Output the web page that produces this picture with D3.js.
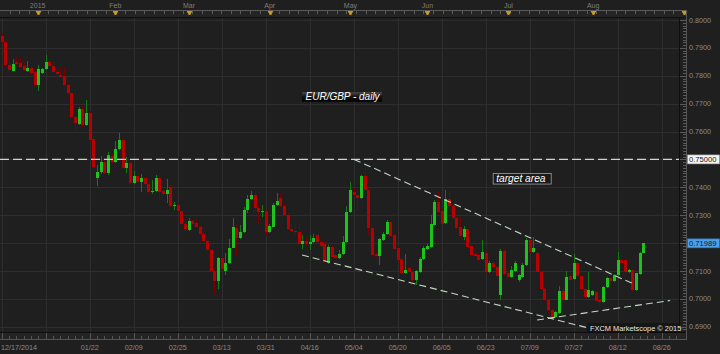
<!DOCTYPE html>
<html><head><meta charset="utf-8">
<script src="https://cdn.jsdelivr.net/npm/d3@7"></script>
<style>html,body{margin:0;padding:0;background:#1f1f1f;}svg{display:block;}</style>
</head><body><svg id="c" width="720" height="354"></svg>
<script>
// ---------- DATA (EUR/GBP daily, 17 Dec 2014 – 19 Aug 2015) ----------
const opens = [
0.7944,0.7922,0.7840,0.7818,0.7849,0.7844,0.7836,0.7818,0.7829,0.7814,
0.7767,0.7811,0.7824,0.7848,0.7836,0.7814,0.7804,0.7799,0.7767,0.7737,
0.7653,0.7627,0.7681,0.7623,0.7667,0.7573,0.7435,0.7454,0.7491,0.7452,
0.7513,0.7491,0.7537,0.7570,0.7468,0.7488,0.7416,0.7440,0.7418,0.7435,
0.7411,0.7384,0.7386,0.7434,0.7386,0.7375,0.7402,0.7335,0.7336,0.7315,
0.7268,0.7246,0.7278,0.7272,0.7258,0.7234,0.7206,0.7175,0.7098,0.7064,
0.7146,0.7100,0.7127,0.7184,0.7253,0.7217,0.7239,0.7318,0.7357,0.7372,
0.7326,0.7312,0.7314,0.7240,0.7258,0.7336,0.7360,0.7334,0.7302,0.7250,
0.7245,0.7238,0.7198,0.7209,0.7198,0.7202,0.7228,0.7202,0.7198,0.7130,
0.7186,0.7156,0.7147,0.7159,0.7202,0.7310,0.7384,0.7374,0.7360,0.7440,
0.7390,0.7254,0.7159,0.7154,0.7211,0.7232,0.7274,0.7228,0.7183,0.7142,
0.7093,0.7109,0.7096,0.7067,0.7096,0.7142,0.7178,0.7186,0.7264,0.7348,
0.7314,0.7272,0.7357,0.7333,0.7290,0.7258,0.7220,0.7249,0.7190,0.7161,
0.7156,0.7142,0.7166,0.7096,0.7130,0.7114,0.7013,0.7171,0.7091,0.7078,
0.7099,0.7067,0.7078,0.7120,0.7211,0.7168,0.7165,0.7096,0.7037,0.6997,
0.6961,0.6933,0.6949,0.7028,0.6997,0.7081,0.7070,0.7127,0.7081,0.7037,
0.7007,0.7013,0.7025,0.6995,0.6989,0.7043,0.7075,0.7064,0.7085,0.7141,
0.7138,0.7096,0.7103,0.7031,0.7088,0.7166];
const highs = [
0.7953,0.7925,0.7856,0.7859,0.7868,0.7865,0.7850,0.7853,0.7831,0.7817,
0.7838,0.7828,0.7874,0.7856,0.7856,0.7829,0.7827,0.7827,0.7770,0.7738,
0.7659,0.7688,0.7691,0.7713,0.7673,0.7584,0.7480,0.7512,0.7498,0.7527,
0.7519,0.7566,0.7593,0.7573,0.7509,0.7494,0.7458,0.7444,0.7447,0.7437,
0.7415,0.7426,0.7444,0.7440,0.7393,0.7429,0.7408,0.7348,0.7339,0.7318,
0.7275,0.7289,0.7288,0.7282,0.7264,0.7239,0.7210,0.7178,0.7103,0.7149,
0.7149,0.7164,0.7214,0.7290,0.7264,0.7264,0.7330,0.7372,0.7386,0.7375,
0.7332,0.7336,0.7318,0.7268,0.7343,0.7378,0.7378,0.7339,0.7307,0.7270,
0.7264,0.7270,0.7228,0.7222,0.7228,0.7231,0.7232,0.7207,0.7203,0.7192,
0.7192,0.7164,0.7175,0.7226,0.7333,0.7420,0.7396,0.7379,0.7444,0.7479,
0.7393,0.7257,0.7167,0.7217,0.7239,0.7282,0.7278,0.7232,0.7185,0.7146,
0.7160,0.7113,0.7099,0.7103,0.7149,0.7189,0.7198,0.7302,0.7354,0.7384,
0.7318,0.7390,0.7386,0.7336,0.7293,0.7289,0.7262,0.7252,0.7192,0.7167,
0.7160,0.7211,0.7169,0.7135,0.7135,0.7117,0.7178,0.7175,0.7099,0.7117,
0.7135,0.7088,0.7128,0.7217,0.7214,0.7222,0.7170,0.7099,0.7040,0.6998,
0.6964,0.6957,0.7045,0.7043,0.7100,0.7085,0.7162,0.7129,0.7083,0.7040,
0.7096,0.7033,0.7029,0.7013,0.7047,0.7079,0.7079,0.7088,0.7168,0.7168,
0.7142,0.7106,0.7106,0.7094,0.7169,0.7201];
const lows = [
0.7917,0.7835,0.7815,0.7817,0.7838,0.7829,0.7817,0.7814,0.7808,0.7758,
0.7746,0.7808,0.7821,0.7831,0.7810,0.7785,0.7791,0.7763,0.7734,0.7648,
0.7599,0.7623,0.7617,0.7619,0.7566,0.7469,0.7404,0.7447,0.7447,0.7444,
0.7487,0.7487,0.7533,0.7465,0.7450,0.7411,0.7413,0.7415,0.7384,0.7375,
0.7379,0.7375,0.7383,0.7350,0.7372,0.7342,0.7329,0.7320,0.7311,0.7264,
0.7244,0.7243,0.7264,0.7255,0.7228,0.7203,0.7171,0.7095,0.7016,0.7034,
0.7103,0.7086,0.7124,0.7181,0.7156,0.7214,0.7235,0.7306,0.7354,0.7306,
0.7270,0.7294,0.7226,0.7235,0.7257,0.7332,0.7329,0.7296,0.7246,0.7239,
0.7228,0.7196,0.7180,0.7192,0.7175,0.7199,0.7199,0.7185,0.7128,0.7126,
0.7146,0.7142,0.7144,0.7156,0.7199,0.7307,0.7368,0.7318,0.7357,0.7386,
0.7228,0.7153,0.7149,0.7123,0.7207,0.7228,0.7223,0.7178,0.7135,0.7088,
0.7088,0.7092,0.7063,0.7049,0.7094,0.7139,0.7175,0.7183,0.7260,0.7307,
0.7268,0.7269,0.7330,0.7287,0.7252,0.7218,0.7211,0.7183,0.7153,0.7149,
0.7135,0.7138,0.7094,0.7094,0.7110,0.7077,0.6995,0.7086,0.7074,0.7076,
0.7095,0.7059,0.7076,0.7117,0.7165,0.7165,0.7094,0.7034,0.6991,0.6948,
0.6926,0.6930,0.6946,0.6989,0.6995,0.7067,0.7066,0.7077,0.7034,0.7004,
0.7004,0.7009,0.6989,0.6971,0.6986,0.7040,0.7061,0.7061,0.7081,0.7124,
0.7094,0.7094,0.7027,0.7027,0.7085,0.7164];
const closes = [
0.7922,0.7838,0.7819,0.7842,0.7842,0.7832,0.7821,0.7829,0.7811,0.7767,
0.7824,0.7824,0.7848,0.7835,0.7812,0.7806,0.7796,0.7767,0.7737,0.7653,
0.7629,0.7681,0.7623,0.7667,0.7570,0.7473,0.7454,0.7491,0.7452,0.7515,
0.7491,0.7539,0.7570,0.7468,0.7488,0.7416,0.7440,0.7418,0.7435,0.7411,
0.7384,0.7387,0.7434,0.7384,0.7375,0.7390,0.7333,0.7338,0.7314,0.7268,
0.7249,0.7278,0.7268,0.7258,0.7232,0.7206,0.7175,0.7098,0.7064,0.7146,
0.7106,0.7127,0.7184,0.7256,0.7217,0.7239,0.7318,0.7357,0.7372,0.7326,
0.7312,0.7315,0.7240,0.7260,0.7336,0.7350,0.7333,0.7300,0.7250,0.7243,
0.7238,0.7198,0.7207,0.7196,0.7204,0.7218,0.7202,0.7190,0.7132,0.7186,
0.7150,0.7147,0.7162,0.7202,0.7312,0.7390,0.7372,0.7360,0.7440,0.7390,
0.7254,0.7156,0.7154,0.7214,0.7234,0.7274,0.7226,0.7180,0.7139,0.7093,
0.7105,0.7096,0.7067,0.7099,0.7144,0.7183,0.7189,0.7267,0.7348,0.7310,
0.7270,0.7357,0.7333,0.7290,0.7254,0.7225,0.7249,0.7186,0.7156,0.7153,
0.7139,0.7168,0.7096,0.7130,0.7114,0.7082,0.7171,0.7088,0.7078,0.7103,
0.7130,0.7085,0.7120,0.7211,0.7168,0.7184,0.7096,0.7037,0.6995,0.6961,
0.6933,0.6953,0.7028,0.6997,0.7078,0.7069,0.7127,0.7081,0.7037,0.7007,
0.7031,0.7028,0.6992,0.6990,0.7043,0.7075,0.7064,0.7085,0.7141,0.7127,
0.7096,0.7103,0.7031,0.7091,0.7166,0.71989];

// bottom date labels: one grid line every 12 bars
const dateLabels = ["12/17/2014","","01/22","02/09","02/25","03/13","03/31","04/16","05/04","05/20","06/05","06/23","07/09","07/27","08/12","08/26"];
// top month markers (bar index of month start)
const monthLabels = ["2015","Feb","Mar","Apr","May","Jun","Jul","Aug",""];
const monthIdx = [9.8,31.0,51.1,73.1,95.1,116.1,138.2,161.3,186.2];
// price axis
const priceTicks = [0.80,0.79,0.78,0.77,0.76,0.75,0.74,0.73,0.72,0.71,0.70,0.69];
const priceLabels = ["0.8000","0.7900","0.7800","0.7700","0.7600","0.7500","0.7400","0.7300","0.7200","0.7100","0.7000","0.6900"];
const targetLevel = 0.75;
const lastPrice = 0.71989;
// trend lines (bar index, price)
const trendX1 = [96.1, 81.9, 146.0];
const trendP1 = [0.7500, 0.7157, 0.6924];
const trendX2 = [172.4, 160.4, 182.3];
const trendP2 = [0.7053, 0.6894, 0.6994];

(function(){
const W=720,H=354;
const P={l:0,r:679,t:18,b:332};
const FONT='"Liberation Sans", Arial, sans-serif';
const x=d3.scaleLinear().domain([0,175]).range([1.7,643.4]);
const y=d3.scaleLinear().domain([0.69,0.80]).range([326.7,20]);
const svg=d3.select('#c');

svg.append('rect').attr('width',W).attr('height',H).attr('fill','#1f1f1f');
const defs=svg.append('defs');
defs.append('clipPath').attr('id','pc').append('rect').attr('x',P.l).attr('y',P.t).attr('width',P.r-P.l).attr('height',P.b-P.t);
const gr=defs.append('linearGradient').attr('id','lg').attr('x1',0).attr('y1',0).attr('x2',0).attr('y2',1);
gr.append('stop').attr('offset','0%').attr('stop-color','#4a4a4a');
gr.append('stop').attr('offset','45%').attr('stop-color','#151515');
gr.append('stop').attr('offset','100%').attr('stop-color','#000');

// grid
const grid=svg.append('g').attr('shape-rendering','crispEdges');
grid.selectAll('line.h').data(priceTicks).join('line')
  .attr('x1',P.l).attr('x2',P.r).attr('y1',d=>Math.round(y(d))+0.5).attr('y2',d=>Math.round(y(d))+0.5)
  .attr('stroke','#2e2e2e');
grid.selectAll('line.v').data(dateLabels).join('line')
  .attr('x1',(d,i)=>Math.round(x(i*12))+0.5).attr('x2',(d,i)=>Math.round(x(i*12))+0.5)
  .attr('y1',P.t).attr('y2',P.b).attr('stroke','#2e2e2e');

// top strip
const topG=svg.append('g').attr('shape-rendering','crispEdges');
topG.append('rect').attr('x',0).attr('y',10).attr('width',687).attr('height',8).attr('fill','#242424');
topG.append('line').attr('x1',0).attr('x2',687).attr('y1',10.5).attr('y2',10.5).attr('stroke','#5a5a5a');
topG.append('line').attr('x1',0).attr('x2',687).attr('y1',17.5).attr('y2',17.5).attr('stroke','#0e0e0e');
topG.selectAll('line.tk').data(d3.range(1,72)).join('line')
  .attr('x1',d=>Math.round(d*9.62)+0.5).attr('x2',d=>Math.round(d*9.62)+0.5)
  .attr('y1',11).attr('y2',14).attr('stroke','#5a5a5a');
topG.selectAll('text').data(monthLabels).join('text')
  .attr('x',(d,i)=>x(monthIdx[i])).attr('y',8).attr('text-anchor','middle')
  .attr('font-family',FONT).attr('font-size','7px').attr('fill','#7e7e7e').text(d=>d);
const tri=svg.append('g');
monthIdx.forEach(m=>{
  const cx=Math.round(x(m))+0.5;
  tri.append('path').attr('d',`M${cx-2.8},11 L${cx+2.8},11 L${cx},16.5 Z`).attr('fill','#c99a1e');
  tri.append('line').attr('x1',cx).attr('x2',cx).attr('y1',15).attr('y2',18).attr('stroke','#1a1a1a');
});

// bottom strip
const botG=svg.append('g').attr('shape-rendering','crispEdges');
botG.append('rect').attr('x',0).attr('y',332).attr('width',687).attr('height',7).attr('fill','#242424');
botG.append('line').attr('x1',0).attr('x2',687).attr('y1',332.5).attr('y2',332.5).attr('stroke','#0e0e0e');
botG.append('line').attr('x1',0).attr('x2',687).attr('y1',339.5).attr('y2',339.5).attr('stroke','#555');
botG.selectAll('line.tk').data(d3.range(0,186,2)).join('line')
  .attr('x1',d=>Math.round(x(d))+0.5).attr('x2',d=>Math.round(x(d))+0.5)
  .attr('y1',d=>d%12===0?333:336).attr('y2',339).attr('stroke','#555');
botG.selectAll('text').data(dateLabels).join('text')
  .attr('x',(d,i)=>i===0?1:x(i*12)).attr('y',350)
  .attr('text-anchor',(d,i)=>i===0?'start':'middle')
  .attr('font-family',FONT).attr('font-size','7.2px').attr('fill','#8a8a8a').text(d=>d);

// right axis
const ra=svg.append('g').attr('shape-rendering','crispEdges');
ra.append('line').attr('x1',679.5).attr('x2',679.5).attr('y1',P.t).attr('y2',P.b).attr('stroke','#0e0e0e');
ra.append('line').attr('x1',686.5).attr('x2',686.5).attr('y1',10).attr('y2',339).attr('stroke','#555');
const minor=d3.range(689,801).map(v=>v/1000).filter(v=>y(v)>=P.t&&y(v)<=P.b);
ra.selectAll('line.mn').data(minor).join('line')
  .attr('x1',d=>Math.round(d*1000)%10===0?680:683).attr('x2',686)
  .attr('y1',d=>Math.round(y(d))+0.5).attr('y2',d=>Math.round(y(d))+0.5).attr('stroke','#5a5a5a');
const tagYs=[y(targetLevel),y(lastPrice)];
ra.selectAll('text').data(priceTicks.filter(v=>tagYs.every(t=>Math.abs(y(v)-t)>7))).join('text')
  .attr('x',689).attr('y',d=>y(d)+2.6)
  .attr('font-family',FONT).attr('font-size','7.2px').attr('fill','#8a8a8a')
  .text(d=>priceLabels[priceTicks.indexOf(d)]);

// candles
const plot=svg.append('g').attr('clip-path','url(#pc)');
const idx=d3.range(closes.length);
const up=i=>closes[i]>=opens[i];
plot.append('g').attr('shape-rendering','crispEdges').selectAll('rect').data(idx).join('rect')
  .attr('x',i=>Math.round(x(i))).attr('width',1)
  .attr('y',i=>y(highs[i])).attr('height',i=>Math.max(1,y(lows[i])-y(highs[i])))
  .attr('fill',i=>up(i)?'#127a12':'#7a0000');
plot.append('g').attr('shape-rendering','crispEdges').selectAll('rect').data(idx).join('rect')
  .attr('x',i=>Math.round(x(i))-1).attr('width',3)
  .attr('y',i=>y(Math.max(opens[i],closes[i])))
  .attr('height',i=>Math.max(1,Math.abs(y(opens[i])-y(closes[i]))))
  .attr('fill',i=>up(i)?'#1ec21e':'#b70000');

// target level dashed line
plot.append('line').attr('x1',P.l).attr('x2',P.r).attr('y1',y(targetLevel)).attr('y2',y(targetLevel))
  .attr('stroke','#d2d2d2').attr('stroke-width',1.4).attr('stroke-dasharray','9,4');

// trend lines
plot.selectAll('line.tr').data(trendX1).join('line')
  .attr('x1',(d,i)=>x(trendX1[i])).attr('y1',(d,i)=>y(trendP1[i]))
  .attr('x2',(d,i)=>x(trendX2[i])).attr('y2',(d,i)=>y(trendP2[i]))
  .attr('stroke','#c4d8c4').attr('stroke-width',1.1).attr('stroke-dasharray','7,4');

// price tags
svg.append('rect').attr('x',687.5).attr('y',y(targetLevel)-4.5).attr('width',32).attr('height',9)
  .attr('fill','#f4f4f4').attr('stroke','#9a9a9a').attr('stroke-width',0.6);
svg.append('text').attr('x',689).attr('y',y(targetLevel)+2.7).attr('font-family',FONT).attr('font-size','7.6px')
  .attr('fill','#111').text(targetLevel.toFixed(5));
svg.append('rect').attr('x',687.5).attr('y',y(lastPrice)-4.5).attr('width',32).attr('height',9)
  .attr('fill','#4d9fe6').attr('stroke','#2a6fb0').attr('stroke-width',0.6);
svg.append('text').attr('x',689).attr('y',y(lastPrice)+2.7).attr('font-family',FONT).attr('font-size','7.6px')
  .attr('fill','#0a1a2a').text(lastPrice.toFixed(5));

// annotations
const t1=svg.append('g').attr('transform',`translate(${x(81.9)},${y(0.7741)})`);
t1.append('rect').attr('width',80).attr('height',9.5).attr('fill','url(#lg)');
t1.append('text').attr('x',3.5).attr('y',8).attr('font-family',FONT).attr('font-style','italic')
  .attr('font-size','10px').attr('fill','#ffffff').text('EUR/GBP - daily');
const t2=svg.append('g').attr('transform',`translate(${x(133.9)},${y(0.7451)})`);
t2.append('rect').attr('x',0.5).attr('y',0.5).attr('width',58).attr('height',10.5)
  .attr('fill','#1a1a1a').attr('stroke','#a0a0a0').attr('stroke-width',0.8);
t2.append('text').attr('x',3.5).attr('y',8.8).attr('font-family',FONT).attr('font-style','italic')
  .attr('font-size','10.2px').attr('fill','#ffffff').text('target area');

// watermark
svg.append('rect').attr('x',587).attr('y',323).attr('width',92).attr('height',9).attr('fill','#161616');
svg.append('text').attr('x',590).attr('y',330.5).attr('font-family',FONT).attr('font-size','7.4px')
  .attr('fill','#e6e6e6').text('FXCM Marketscope \u00A9 2015');
})();
</script></body></html>
